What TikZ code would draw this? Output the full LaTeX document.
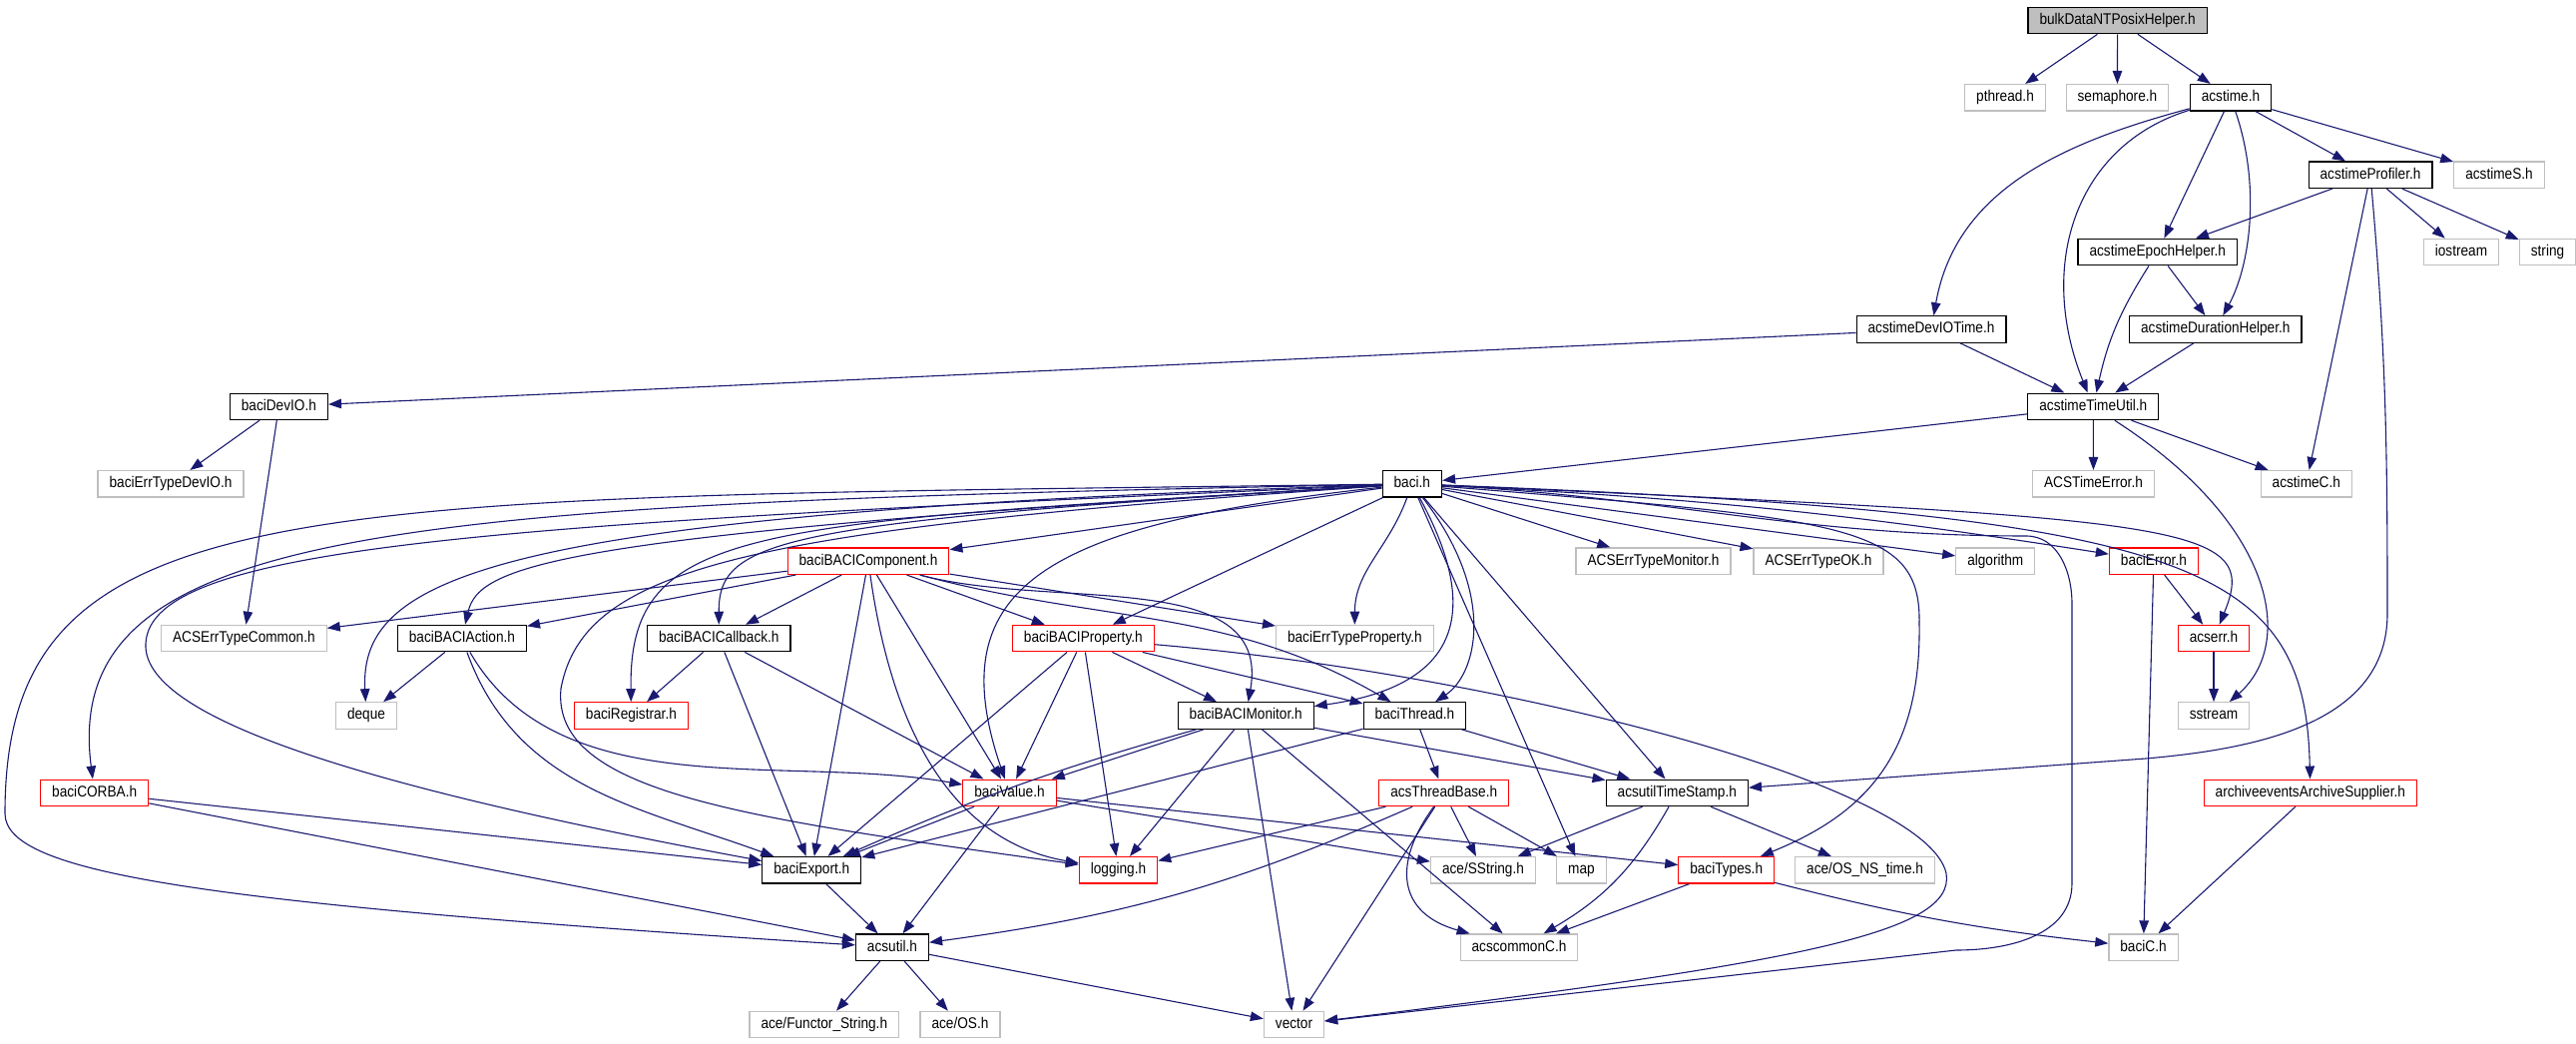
\documentclass[tikz,border=0pt]{standalone}
\usepackage{fontspec}
\setmainfont{Liberation Sans}[FakeStretch=0.88]
\usetikzlibrary{arrows.meta}
\definecolor{linkblue}{RGB}{25,25,112}
\definecolor{extgray}{RGB}{191,191,191}

\begin{document}
\begin{tikzpicture}[x=1pt,y=1pt,
    file/.style={draw, line width=1.2pt, fill=white, minimum height=26.5pt,
      inner xsep=11.5pt, inner ysep=0pt, text height=11pt, text depth=3pt,
      font=\fontsize{15.5}{15.5}\selectfont},
    docfile/.style={file, draw=black},
    extfile/.style={file, draw=extgray},
    cutfile/.style={file, draw=red},
    rootfile/.style={file, draw=black, fill=extgray},
    link/.style={draw=linkblue, line width=1.1pt, -{Triangle[length=13pt,width=9.5pt]}}]

  \useasboundingbox (0,0) rectangle (2581,1045);

  \begin{scope}
    \node[rootfile] (bulk)        at (2121.6,1024.5) {bulkDataNTPosixHelper.h};
    \node[extfile]  (pthread)     at (2009,947.2)    {pthread.h};
    \node[extfile]  (semaphore)   at (2121.4,947.2)  {semaphore.h};
    \node[docfile]  (acstime)     at (2235,947.2)    {acstime.h};
    \node[docfile]  (profiler)    at (2375,869.8)    {acstimeProfiler.h};
    \node[extfile]  (acstimeS)    at (2504,869.8)    {acstimeS.h};
    \node[docfile]  (epoch)       at (2161.8,792.4)  {acstimeEpochHelper.h};
    \node[extfile]  (iostream)    at (2466,792.4)    {iostream};
    \node[extfile]  (string)      at (2552.5,792.4)  {string};
    \node[docfile]  (duration)    at (2219.8,715)    {acstimeDurationHelper.h};
    \node[docfile]  (devIOTime)   at (1935,715)      {acstimeDevIOTime.h};
    \node[docfile]  (timeUtil)    at (2097.3,637.6)  {acstimeTimeUtil.h};
    \node[docfile]  (baciDevIO)   at (279.4,637.6)   {baciDevIO.h};
    \node[extfile]  (errDevIO)    at (171,560.2)     {baciErrTypeDevIO.h};
    \node[extfile]  (timeError)   at (2097.5,560.2)  {ACSTimeError.h};
    \node[extfile]  (acstimeC)    at (2310.8,560.2)  {acstimeC.h};
    \node[docfile]  (baci)        at (1414.8,560.2)  {baci.h};
    \node[cutfile]  (component)   at (870,482.8)     {baciBACIComponent.h};
    \node[extfile]  (errMonitor)  at (1656.5,482.8)  {ACSErrTypeMonitor.h};
    \node[extfile]  (errOK)       at (1822,482.8)    {ACSErrTypeOK.h};
    \node[extfile]  (algorithm)   at (1999.3,482.8)  {algorithm};
    \node[cutfile]  (baciError)   at (2157.9,482.8)  {baciError.h};
    \node[extfile]  (errCommon)   at (244.4,405.4)   {ACSErrTypeCommon.h};
    \node[docfile]  (action)      at (462.9,405.4)   {baciBACIAction.h};
    \node[docfile]  (callback)    at (720.3,405.4)   {baciBACICallback.h};
    \node[cutfile]  (property)    at (1085.3,405.4)  {baciBACIProperty.h};
    \node[extfile]  (errProperty) at (1357.4,405.4)  {baciErrTypeProperty.h};
    \node[cutfile]  (acserr)      at (2218,405.4)    {acserr.h};
    \node[extfile]  (deque)       at (367,328)       {deque};
    \node[cutfile]  (registrar)   at (632.4,328)     {baciRegistrar.h};
    \node[docfile]  (monitor)     at (1248.2,328)    {baciBACIMonitor.h};
    \node[docfile]  (thread)      at (1417.5,328)    {baciThread.h};
    \node[extfile]  (sstream)     at (2218,328)      {sstream};
    \node[cutfile]  (corba)       at (94.7,250.6)    {baciCORBA.h};
    \node[cutfile]  (value)       at (1011.5,250.6)  {baciValue.h};
    \node[cutfile]  (threadBase)  at (1446.7,250.6)  {acsThreadBase.h};
    \node[docfile]  (timeStamp)   at (1680.3,250.6)  {acsutilTimeStamp.h};
    \node[cutfile]  (archive)     at (2314.8,250.6)  {archiveeventsArchiveSupplier.h};
    \node[docfile]  (export)      at (813.3,173.2)   {baciExport.h};
    \node[cutfile]  (logging)     at (1120.5,173.2)  {logging.h};
    \node[extfile]  (sstring)     at (1486,173.2)    {ace/SString.h};
    \node[extfile]  (map)         at (1584.4,173.2)  {map};
    \node[cutfile]  (types)       at (1729.7,173.2)  {baciTypes.h};
    \node[extfile]  (osNsTime)    at (1868.6,173.2)  {ace/OS\_NS\_time.h};
    \node[docfile]  (acsutil)     at (894,95.8)      {acsutil.h};
    \node[extfile]  (commonC)     at (1522,95.8)     {acscommonC.h};
    \node[extfile]  (baciC)       at (2147.5,95.8)   {baciC.h};
    \node[extfile]  (functor)     at (825.8,18.4)    {ace/Functor\_String.h};
    \node[extfile]  (aceOS)       at (962,18.4)      {ace/OS.h};
    \node[extfile]  (vector)      at (1296.5,18.4)   {vector};
  \end{scope}

  \begin{scope}[every edge/.style={link}]
    \path (bulk) edge (pthread);
    \path (bulk) edge (semaphore);
    \path (bulk) edge (acstime);
    \path (acstime) edge[out=195,in=80] (devIOTime);
    \draw[link] (acstime) .. controls (2080,900) and (2040,780) .. (timeUtil);
    \path (acstime) edge (epoch);
    \draw[link] (acstime) .. controls (2265,860) and (2255,780) .. (duration);
    \path (acstime) edge (profiler);
    \path (acstime) edge (acstimeS);
    \path (profiler) edge (epoch);
    \path (profiler) edge (iostream);
    \path (profiler) edge (string);
    \path (profiler) edge (acstimeC);
    \draw[link] (profiler) to[out=-85,in=90] (2392,430) to[out=-90,in=5] (2150,285) -- (timeStamp);
    \path (epoch) edge (duration);
    \path (epoch) edge[bend right=10] (timeUtil);
    \path (duration) edge (timeUtil);
    \path (devIOTime) edge (baciDevIO);
    \path (devIOTime) edge (timeUtil);
    \path (timeUtil) edge (baci);
    \path (timeUtil) edge (timeError);
    \path (timeUtil) edge (acstimeC);
    \draw[link] (timeUtil) .. controls (2280,520) and (2300,400) .. (sstream);
    \path (baciDevIO) edge (errDevIO);
    \path (baciDevIO) edge (errCommon);

    \draw[link] (baci) .. controls (400,540) and (60,520) .. (corba);
    \draw[link] (baci) .. controls (300,545) and (5,560) .. (5,230) .. controls (5,170) and (200,140) .. (acsutil);
    \draw[link] (baci) .. controls (500,520) and (150,500) .. (146,400) .. controls (142,320) and (400,250) .. (export);
    \draw[link] (baci) .. controls (500,530) and (360,470) .. (deque);
    \draw[link] (baci) .. controls (560,510) and (480,480) .. (action);
    \draw[link] (baci) .. controls (750,520) and (630,520) .. (registrar);
    \draw[link] (baci) .. controls (760,515) and (585,480) .. (562,355) .. controls (552,250) and (750,225) .. (logging);
    \draw[link] (baci) .. controls (780,522) and (720,505) .. (callback);
    \path (baci) edge (component);
    \draw[link] (baci) .. controls (1050,520) and (940,460) .. (value);
    \path (baci) edge (property);
    \path (baci) edge[out=-110,in=90] (errProperty);
    \draw[link] (baci) .. controls (1475,450) and (1480,360) .. (monitor);
    \draw[link] (baci) .. controls (1500,450) and (1480,370) .. (thread);
    \path (baci) edge (map);
    \path (baci) edge (timeStamp);
    \path (baci) edge (errMonitor);
    \path (baci) edge (errOK);
    \path (baci) edge (algorithm);
    \path (baci) edge[bend left=3] (baciError);
    \draw[link] (baci) .. controls (2200,525) and (2265,520) .. (acserr);
    \draw[link] (baci) .. controls (2200,530) and (2310,480) .. (archive);
    \draw[link] (baci) .. controls (1850,525) and (1925,520) .. (1923,420) .. controls (1925,290) and (1870,230) .. (types);
    \draw[link] (baci) to[out=-3,in=180] (2030,508) to[out=0,in=90] (2076,440) -- (2076,160) to[out=-90,in=0] (1960,93) -- (vector);

    \path (component) edge (errCommon);
    \path (component) edge (action);
    \path (component) edge (callback);
    \path (component) edge (export);
    \path (component) edge[out=-82,in=170] (logging);
    \path (component) edge (value);
    \path (component) edge (property);
    \path (component) edge (errProperty);
    \path (component) edge[out=-15,in=80] (monitor);
    \path (component) edge[out=-15,in=150] (thread);

    \path (property) edge (export);
    \path (property) edge (value);
    \path (property) edge (logging);
    \path (property) edge (monitor);
    \path (property) edge (thread);
    \draw[link] (property) .. controls (1500,370) and (1930,260) .. (1950,170) .. controls (1960,110) and (1800,80) .. (vector);

    \path (callback) edge (registrar);
    \path (callback) edge (export);
    \path (callback) edge (value);

    \path (action) edge (deque);
    \path (action) edge[out=-70,in=160] (export);
    \path (action) edge[out=-60,in=170,looseness=0.9] (value);

    \path (corba) edge (export);
    \path (corba) edge (acsutil);

    \path (monitor) edge (value);
    \path (monitor) edge[bend right=4] (export);
    \path (monitor) edge (logging);
    \path (monitor) edge (vector);
    \path (monitor) edge (commonC);
    \path (monitor) edge (timeStamp);

    \path (thread) edge (export);
    \path (thread) edge (threadBase);
    \path (thread) edge (timeStamp);

    \path (threadBase) edge (logging);
    \path (threadBase) edge[bend left=8] (acsutil);
    \path (threadBase) edge (sstring);
    \path (threadBase) edge (map);
    \draw[link] (threadBase) .. controls (1395,180) and (1400,130) .. (commonC);
    \path (threadBase) edge (vector);

    \path (value) edge (export);
    \path (value) edge (acsutil);
    \path (value) edge (sstring);
    \path (value) edge (types);

    \path (timeStamp) edge (sstring);
    \path (timeStamp) edge[bend left=15] (commonC);
    \path (timeStamp) edge (osNsTime);

    \path (types) edge (commonC);
    \path (types) edge[bend right=4] (baciC);
    \path (export) edge (acsutil);
    \path (acsutil) edge (functor);
    \path (acsutil) edge (aceOS);
    \path (acsutil) edge (vector);
    \path (baciError) edge (baciC);
    \path (baciError) edge (acserr);
    \path (acserr) edge (sstream);
    \path (archive) edge (baciC);
  \end{scope}

\end{tikzpicture}
\end{document}
